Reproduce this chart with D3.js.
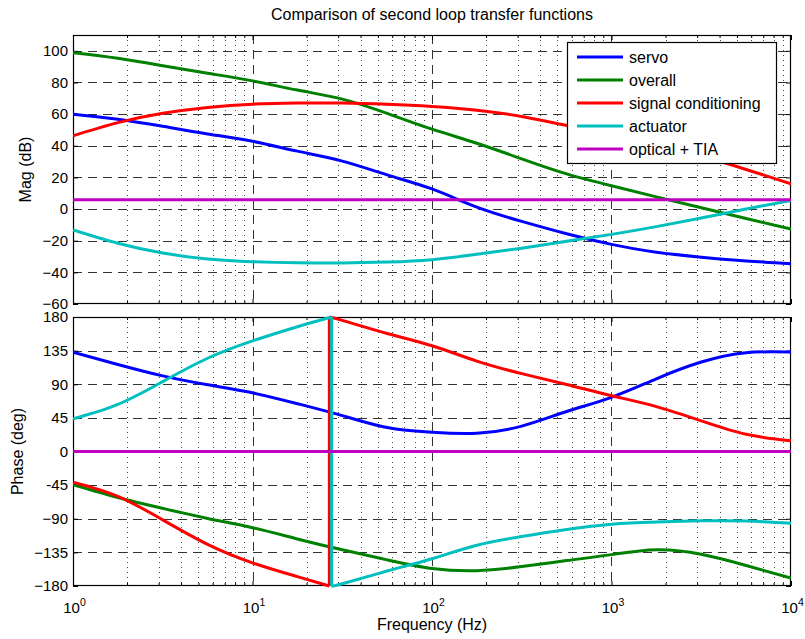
<!DOCTYPE html>
<html>
<head>
<meta charset="utf-8">
<script src="https://cdn.jsdelivr.net/npm/d3@7"></script>
<style>
  body { margin: 0; background: #fff; }
  svg { display: block; font-family: "Liberation Sans", Arial, Helvetica, sans-serif; }
</style>
</head>
<body>
<svg id="chart" width="805" height="639"></svg>
<script>
// ###############
// data (x grid = quarter decades)
// ###############
var freq = [1, 1.778, 3.162, 5.623, 10, 17.78, 31.62, 56.23, 100, 177.8, 316.2, 562.3, 1000, 1778, 3162, 5623, 10000];

var servoMag    = [60, 56.8, 52.3, 47.5, 42.8, 36.6, 30.3, 21.6, 12.7, 1.2, -7.8, -15.6, -22.3, -27.3, -30.4, -32.8, -34.5];
var overallMag  = [98.8, 95.3, 90.6, 85.8, 81, 75.2, 69.5, 60.5, 50.5, 41.6, 31.7, 22.2, 14.7, 7.7, 0.8, -6, -12.7];
var signalMag   = [46.3, 54.6, 60.5, 64.2, 66.3, 67, 67, 66.2, 64.8, 62.5, 58.5, 52.8, 47, 40.5, 33.5, 25, 16];
var actuatorMag = [-13.2, -21.6, -27.8, -31.6, -33.3, -34, -34.1, -33.5, -32, -28.6, -24.7, -20.4, -16, -11.1, -5.7, 0, 5.5];
var opticalMag  = [5.9, 5.9, 5.9, 5.9, 5.9, 5.9, 5.9, 5.9, 5.9, 5.9, 5.9, 5.9, 5.9, 5.9, 5.9, 5.9, 5.9];

var servoPhase    = [133, 116.5, 101.2, 89.3, 78.5, 64, 48, 32, 25.6, 24.4, 34, 53.5, 72.5, 97.3, 119.7, 132.2, 133];
var overallPhase  = [-44.3, -61.5, -76.1, -89.6, -102, -117, -131.6, -145, -156.5, -159.5, -154, -146, -138, -131.5, -137.5, -152.5, -169.5];
var signalPhase   = [-41, -60, -91.5, -124.3, -149, -167.4, 175.5, 158, 141.5, 121, 104.2, 89.7, 74.7, 60.1, 41, 23, 14.5];
var actuatorPhase = [43.7, 63, 93.5, 124.8, 148, 167, -177, -160, -143.5, -125.5, -113.8, -104.5, -97.3, -94.3, -92.8, -93, -96];
var opticalPhase  = [0, 0, 0, 0, 0, 0, 0, 0, 0, 0, 0, 0, 0, 0, 0, 0, 0];

// phase wrap points (+-180) that were not unwrapped
var signalWrap   = [[26.8, -180], [26.8, 180]];
var actuatorWrap = [[27.6, 180], [27.6, -180]];

var seriesNames  = ["servo", "overall", "signal conditioning", "actuator", "optical + TIA"];
var seriesColors = ["#0000ff", "#008000", "#ff0000", "#00bfbf", "#bf00bf"];

var magTicks    = [-60, -40, -20, 0, 20, 40, 60, 80, 100];
var magLabels   = ["\u221260", "\u221240", "\u221220", "0", "20", "40", "60", "80", "100"];
var phaseTicks  = [-180, -135, -90, -45, 0, 45, 90, 135, 180];
var phaseLabels = ["\u2212180", "\u2212135", "\u221290", "-45", "0", "45", "90", "135", "180"];
var decades     = [1, 10, 100, 1000, 10000];
var decadeExp   = ["0", "1", "2", "3", "4"];

// ###############
// layout
// ###############
var svg = d3.select("#chart");
var left = 73, right = 791;
var magBox   = {top: 35,  bottom: 304};
var phaseBox = {top: 317, bottom: 586};

var x = d3.scaleLog().domain([1, 10000]).range([left, right]);
var yMag = d3.scaleLinear().domain([-60, 110]).range([magBox.bottom, magBox.top]);
var yPhase = d3.scaleLinear().domain([-180, 180]).range([phaseBox.bottom, phaseBox.top]);

// minor x values 2..9 of every decade
var minorX = [];
decades.slice(0, 4).forEach(function(d) {
    for (var k = 2; k <= 9; k++) minorX.push(d * k);
});

function drawPanel(box, y, ticks, labels, gridTicks, ylabel, showXLabels) {
    var g = svg.append("g");
    var w = right - left, h = box.bottom - box.top;

    g.append("rect").attr("x", left).attr("y", box.top).attr("width", w).attr("height", h).attr("fill", "#fff");

    // minor dotted grid (x only)
    g.append("g").selectAll("line").data(minorX).enter().append("line")
        .attr("x1", function(d) { return Math.round(x(d)) + 0.5; })
        .attr("x2", function(d) { return Math.round(x(d)) + 0.5; })
        .attr("y1", box.top).attr("y2", box.bottom)
        .attr("stroke", "#444").attr("stroke-width", 1).attr("stroke-dasharray", "1,4");

    // major dashed grid
    g.append("g").selectAll("line").data([10, 100, 1000]).enter().append("line")
        .attr("x1", function(d) { return Math.round(x(d)) + 0.5; })
        .attr("x2", function(d) { return Math.round(x(d)) + 0.5; })
        .attr("y1", box.top).attr("y2", box.bottom)
        .attr("stroke", "#333").attr("stroke-width", 1).attr("stroke-dasharray", "9,6");
    g.append("g").selectAll("line").data(gridTicks).enter().append("line")
        .attr("x1", left).attr("x2", right)
        .attr("y1", function(d) { return Math.round(y(d)) + 0.5; })
        .attr("y2", function(d) { return Math.round(y(d)) + 0.5; })
        .attr("stroke", "#333").attr("stroke-width", 1).attr("stroke-dasharray", "9,6");

    // axes, ticks pointing inside like matlab
    g.append("g").attr("transform", "translate(" + left + ",0)")
        .call(d3.axisLeft(y).tickValues(ticks).tickSize(-5).tickPadding(5)
            .tickFormat(function(d, i) { return labels[i]; }));
    g.append("g").attr("transform", "translate(" + right + ",0)")
        .call(d3.axisRight(y).tickValues(ticks).tickSize(-5).tickFormat(""));
    g.append("g").attr("transform", "translate(0," + box.top + ")")
        .call(d3.axisTop(x).tickValues(decades).tickSize(-5).tickFormat(""));
    g.append("g").attr("transform", "translate(0," + box.top + ")")
        .call(d3.axisTop(x).tickValues(minorX).tickSize(-3).tickFormat(""));
    var axB = g.append("g").attr("transform", "translate(0," + box.bottom + ")")
        .call(d3.axisBottom(x).tickValues(decades).tickSize(-5).tickPadding(16)
            .tickFormat(function(d, i) { return showXLabels ? "10" : ""; }));
    g.append("g").attr("transform", "translate(0," + box.bottom + ")")
        .call(d3.axisBottom(x).tickValues(minorX).tickSize(-3).tickFormat(""));

    g.selectAll(".domain").remove();
    g.selectAll(".tick line").attr("stroke", "#000");
    g.selectAll(".tick text").attr("font-size", 15).attr("fill", "#000")
        .attr("font-family", "Liberation Sans, Arial, Helvetica, sans-serif");

    if (showXLabels) {
        axB.selectAll(".tick text").attr("dx", 1).each(function(d, i) {
            d3.select(this).append("tspan")
                .attr("dy", "-0.6em").attr("font-size", 10.5).text(decadeExp[i]);
        });
    }

    g.append("rect").attr("x", left + 0.5).attr("y", box.top + 0.5)
        .attr("width", w - 1).attr("height", h - 1)
        .attr("fill", "none").attr("stroke", "#000").attr("stroke-width", 1.2);

    g.append("text")
        .attr("transform", "translate(" + (ylabel.x) + "," + ((box.top + box.bottom) / 2) + ") rotate(-90)")
        .attr("text-anchor", "middle").attr("font-size", 16).text(ylabel.text);
    return g;
}

// splits a series into pieces where the phase wraps by 360 deg
function buildSegments(vals, wrap) {
    var pts = freq.map(function(f, i) { return [f, vals[i]]; });
    if (wrap) {
        pts = pts.concat(wrap);
        pts.sort(function(a, b) { return a[0] - b[0]; });
        // keep the wrap pair in its given order
        var i0 = pts.findIndex(function(p) { return p[0] === wrap[0][0]; });
        pts[i0] = wrap[0]; pts[i0 + 1] = wrap[1];
    }
    var segs = [[pts[0]]];
    for (var i = 1; i < pts.length; i++) {
        if (Math.abs(pts[i][1] - pts[i - 1][1]) > 180) segs.push([]);
        segs[segs.length - 1].push(pts[i]);
    }
    return segs;
}

function drawSeries(y, box, list) {
    var clipId = "clip" + box.top;
    svg.append("clipPath").attr("id", clipId).append("rect")
        .attr("x", left).attr("y", box.top - 2).attr("width", right - left).attr("height", box.bottom - box.top + 4);
    var g = svg.append("g").attr("clip-path", "url(#" + clipId + ")");
    var line = d3.line()
        .x(function(d) { return x(d[0]); })
        .y(function(d) { return y(d[1]); })
        .curve(d3.curveNatural);
    list.forEach(function(s, k) {
        var segs = buildSegments(s.vals, s.wrap);
        segs.forEach(function(seg, j) {
            g.append("path").attr("d", line(seg))
                .attr("fill", "none").attr("stroke", seriesColors[k]).attr("stroke-width", 3)
                .attr("stroke-linejoin", "round");
            if (j > 0) {
                var prev = segs[j - 1][segs[j - 1].length - 1];
                g.append("line")
                    .attr("x1", x(prev[0])).attr("y1", y(prev[1]))
                    .attr("x2", x(seg[0][0])).attr("y2", y(seg[0][1]))
                    .attr("stroke", seriesColors[k]).attr("stroke-width", 3);
            }
        });
    });
}

drawPanel(magBox, yMag, magTicks, magLabels, [-40, -20, 0, 20, 40, 60, 80, 100], {x: 31, text: "Mag (dB)"}, false);
drawPanel(phaseBox, yPhase, phaseTicks, phaseLabels, [-135, -90, -45, 0, 45, 90, 135], {x: 23, text: "Phase (deg)"}, true);

drawSeries(yMag, magBox, [
    {vals: servoMag}, {vals: overallMag}, {vals: signalMag}, {vals: actuatorMag}, {vals: opticalMag}
]);
drawSeries(yPhase, phaseBox, [
    {vals: servoPhase}, {vals: overallPhase}, {vals: signalPhase, wrap: signalWrap},
    {vals: actuatorPhase, wrap: actuatorWrap}, {vals: opticalPhase}
]);

// title and x label
svg.append("text").attr("x", (left + right) / 2).attr("y", 20)
    .attr("text-anchor", "middle").attr("font-size", 16)
    .text("Comparison of second loop transfer functions");
svg.append("text").attr("x", (left + right) / 2).attr("y", 630)
    .attr("text-anchor", "middle").attr("font-size", 16)
    .text("Frequency (Hz)");

// legend
var legend = svg.append("g").attr("transform", "translate(567,42)");
legend.append("rect").attr("x", 0.5).attr("y", 0.5).attr("width", 209).attr("height", 121)
    .attr("fill", "#fff").attr("stroke", "#000").attr("stroke-width", 1.2);
var item = legend.selectAll("g.item").data(seriesNames).enter().append("g")
    .attr("class", "item")
    .attr("transform", function(d, i) { return "translate(0," + (15 + i * 23) + ")"; });
item.append("line").attr("x1", 10).attr("x2", 56).attr("y1", 0).attr("y2", 0)
    .attr("stroke", function(d, i) { return seriesColors[i]; }).attr("stroke-width", 3);
item.append("text").attr("x", 62).attr("y", 5.5).attr("font-size", 16).text(function(d) { return d; });
</script>
</body>
</html>
